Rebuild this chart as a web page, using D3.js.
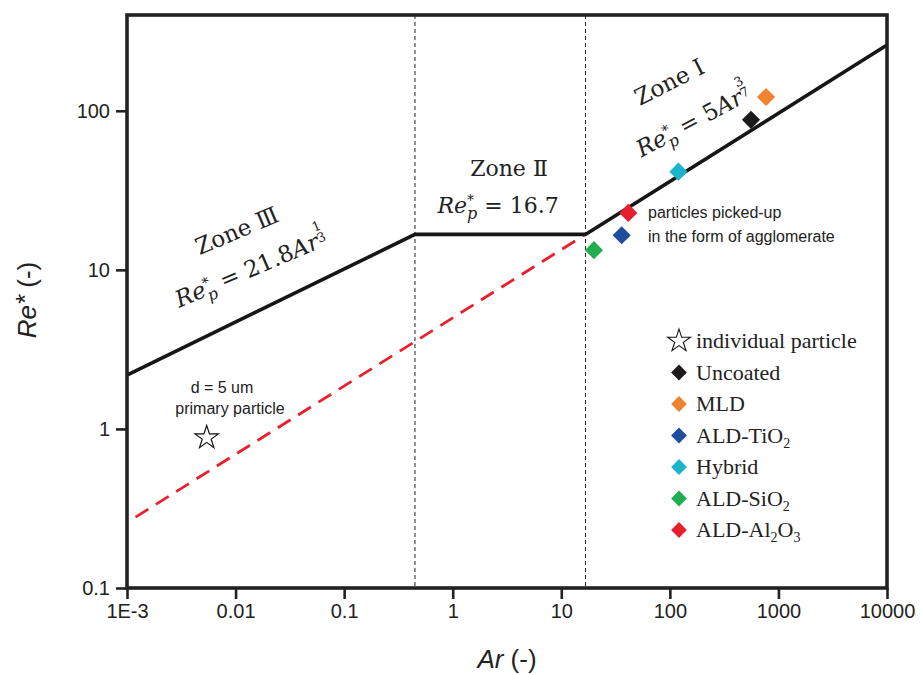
<!DOCTYPE html>
<html><head><meta charset="utf-8">
<script src="https://cdn.jsdelivr.net/npm/d3@7"></script>
<style>body{margin:0;background:#fff}</style>
</head><body>
<svg id="chart" width="922" height="675"></svg>
<script>
// ---- data ----
const xTickValues = [0.001, 0.01, 0.1, 1, 10, 100, 1000, 10000];
const xTickLabels = ["1E-3", "0.01", "0.1", "1", "10", "100", "1000", "10000"];
const yTickValues = [0.1, 1, 10, 100];
const yTickLabels = ["0.1", "1", "10", "100"];
const xDomain = [0.001, 10000];
const yDomain = [0.1, 400];
const curveAr = [0.001, 0.449, 16.7, 10000];
const curveRe = [2.18, 16.7, 16.7, 259];
const extAr = [0.0012, 16.7];
const extRe = [0.279, 16.7];
const zoneDividers = [0.449, 16.7];
const seriesNames = ["Uncoated", "MLD", "ALD-TiO", "Hybrid", "ALD-SiO", "ALD-Al"];
const seriesSubs = [[], [], [["2"]], [], [["2"]], [["2", "O"], ["3"]]];
const seriesColors = ["#1c1a1a", "#f0832f", "#1f4d9e", "#1cb3cc", "#22ad50", "#e3202c"];
const seriesAr = [559, 769, 36.0, 120, 20.0, 41.4];
const seriesRe = [87.7, 122, 16.5, 41.4, 13.3, 22.8];
const primaryAr = [0.00542];
const primaryRe = [0.881];
const legendLabels = ["individual particle", "Uncoated", "MLD", "ALD-TiO", "Hybrid", "ALD-SiO", "ALD-Al"];

// ---- layout ----
const m = {left: 127, right: 887, top: 15, bottom: 588};
const svg = d3.select("#chart");
const x = d3.scaleLog().domain(xDomain).range([m.left, m.right]);
const y = d3.scaleLog().domain(yDomain).range([m.bottom, m.top]);

function minorTicks(domain) {
  const out = [];
  const lo = Math.floor(Math.log10(domain[0])), hi = Math.ceil(Math.log10(domain[1]));
  for (let e = lo; e <= hi; e++) for (let k = 2; k <= 9; k++) {
    const v = k * Math.pow(10, e);
    if (v > domain[0] && v < domain[1] * 1.0001) out.push(v);
  }
  return out;
}

const axisFont = "'Liberation Sans', Arial, sans-serif";
const serif = "'DejaVu Serif', 'Liberation Serif', serif";
const times = "'Liberation Serif', 'Times New Roman', serif";

// axes
const gx = svg.append("g").attr("transform", `translate(0,${m.bottom})`);
gx.call(d3.axisBottom(x).tickValues(minorTicks(xDomain)).tickSize(6).tickFormat(""));
gx.call(d3.axisBottom(x).tickValues(xTickValues).tickSize(11).tickPadding(5)
  .tickFormat((d, i) => xTickLabels[i]));
const gy = svg.append("g").attr("transform", `translate(${m.left},0)`);
gy.call(d3.axisLeft(y).tickValues(minorTicks(yDomain)).tickSize(6).tickFormat(""));
gy.call(d3.axisLeft(y).tickValues(yTickValues).tickSize(11).tickPadding(6)
  .tickFormat((d, i) => yTickLabels[i]));
svg.selectAll(".domain").remove();
svg.selectAll(".tick line").attr("stroke", "#222").attr("stroke-width", 2.6);
svg.selectAll(".tick text").attr("font-family", axisFont).attr("font-size", 20).attr("fill", "#222");

// zone dividers
svg.selectAll("line.div").data(zoneDividers).join("line").attr("class", "div")
  .attr("x1", d => x(d)).attr("x2", d => x(d)).attr("y1", m.top).attr("y2", m.bottom)
  .attr("stroke", "#222").attr("stroke-width", 1).attr("stroke-dasharray", "4,3");

// red dashed extension
const line = d3.line().x(d => x(d[0])).y(d => y(d[1]));
svg.append("path").datum(extAr.map((a, i) => [a, extRe[i]])).attr("d", line)
  .attr("fill", "none").attr("stroke", "#e8202d").attr("stroke-width", 2.8).attr("stroke-dasharray", "15,9");

// black curve
svg.append("path").datum(curveAr.map((a, i) => [a, curveRe[i]])).attr("d", line)
  .attr("fill", "none").attr("stroke", "#161616").attr("stroke-width", 3.6).attr("stroke-linejoin", "miter");

// frame
svg.append("rect").attr("x", m.left).attr("y", m.top).attr("width", m.right - m.left).attr("height", m.bottom - m.top)
  .attr("fill", "none").attr("stroke", "#222").attr("stroke-width", 3.6);

// data points
const diamond = d3.symbol().type(d3.symbolSquare).size(165);
svg.selectAll("path.pt").data(seriesAr).join("path").attr("class", "pt")
  .attr("d", diamond)
  .attr("transform", (d, i) => `translate(${x(d)},${y(seriesRe[i])}) rotate(45)`)
  .attr("fill", (d, i) => seriesColors[i]);
const star = d3.symbol().type(d3.symbolStar).size(170);
svg.selectAll("path.star").data(primaryAr).join("path").attr("class", "star")
  .attr("d", star)
  .attr("transform", (d, i) => `translate(${x(d)},${y(primaryRe[i])})`)
  .attr("fill", "#fff").attr("stroke", "#111").attr("stroke-width", 1.2);

// annotations (sans)
function sansText(tx, ty, txt, anchor) {
  svg.append("text").attr("x", tx).attr("y", ty).attr("text-anchor", anchor || "start")
    .attr("font-family", axisFont).attr("font-size", 16).attr("fill", "#222").text(txt);
}
sansText(222, 393, "d = 5 um", "middle");
sansText(230, 414, "primary particle", "middle");
sansText(648, 218, "particles picked-up");
sansText(648, 242, "in the form of agglomerate");

// zone / equation text
function richText(cx, cy, angle, parts, size) {
  const t = svg.append("text").attr("transform", `translate(${cx},${cy}) rotate(${angle})`)
    .attr("text-anchor", "middle").attr("font-family", serif).attr("font-size", size).attr("fill", "#222");
  parts.forEach(p => {
    const s = t.append("tspan").text(p.t);
    if (p.i) s.attr("font-style", "italic");
    if (p.s) s.attr("font-size", p.s);
    if (p.dx) s.attr("dx", p.dx);
    if (p.dy) s.attr("dy", p.dy);
  });
  return t;
}
function repParts(rest, expo) {
  const parts = [
    {t: "Re", i: 1},
    {t: "*", s: 14, dy: -8},
    {t: "p", i: 1, s: 16, dx: -7, dy: 14},
    {t: rest.pre, dy: -6},
  ];
  if (rest.ar) parts.push({t: "Ar", i: 1});
  if (expo) {
    parts.push({t: expo[0], s: 13, dy: -17});
    parts.push({t: expo[1], s: 13, dx: -8, dy: 12});
    parts.push({t: "", dy: 5});
  }
  return parts;
}
richText(240, 238, -23, [{t: "Zone Ⅲ"}], 23);
richText(254, 276, -23, repParts({pre: " = 21.8", ar: 1}, ["1", "3"]), 23);
richText(509, 176, 0, [{t: "Zone Ⅱ"}], 22);
richText(498, 213, 0, repParts({pre: " = 16.7", ar: 0}), 22);
richText(673, 89, -27, [{t: "Zone Ⅰ"}], 23);
richText(697, 128, -28, repParts({pre: " = 5", ar: 1}, ["3", "7"]), 23);

// axis titles
const yt = svg.append("text").attr("transform", "translate(36,300) rotate(-90)").attr("text-anchor", "middle")
  .attr("font-family", axisFont).attr("font-size", 26).attr("fill", "#222");
yt.append("tspan").attr("font-style", "italic").text("Re");
yt.append("tspan").attr("font-style", "italic").attr("dy", -2).text("*");
yt.append("tspan").attr("dy", 2).text(" (-)");
const xt = svg.append("text").attr("x", 507).attr("y", 668).attr("text-anchor", "middle")
  .attr("font-family", axisFont).attr("font-size", 26).attr("fill", "#222");
xt.append("tspan").attr("font-style", "italic").text("Ar");
xt.append("tspan").text(" (-)");

// legend
const lgX = 679, lgY0 = 341, lgDy = 31.5;
const leg = svg.append("g");
legendLabels.forEach((lab, i) => {
  const cy = lgY0 + i * lgDy;
  if (i === 0) {
    leg.append("path").attr("d", d3.symbol().type(d3.symbolStar).size(160))
      .attr("transform", `translate(${lgX},${cy})`).attr("fill", "#fff").attr("stroke", "#111").attr("stroke-width", 1.1);
  } else {
    leg.append("path").attr("d", d3.symbol().type(d3.symbolSquare).size(125))
      .attr("transform", `translate(${lgX},${cy}) rotate(45)`).attr("fill", seriesColors[i - 1]);
  }
  const t = leg.append("text").attr("x", lgX + 17).attr("y", cy + 7)
    .attr("font-family", times).attr("font-size", 22).attr("fill", "#222");
  t.append("tspan").text(lab);
  if (i > 0) {
    const subs = seriesSubs[i - 1];
    subs.forEach(sb => {
      t.append("tspan").attr("font-size", 14).attr("dy", 5).text(sb[0]);
      if (sb[1]) t.append("tspan").attr("dy", -5).text(sb[1]);
      else t.append("tspan").attr("dy", -5).text("");
    });
  }
});
</script>
</body></html>
